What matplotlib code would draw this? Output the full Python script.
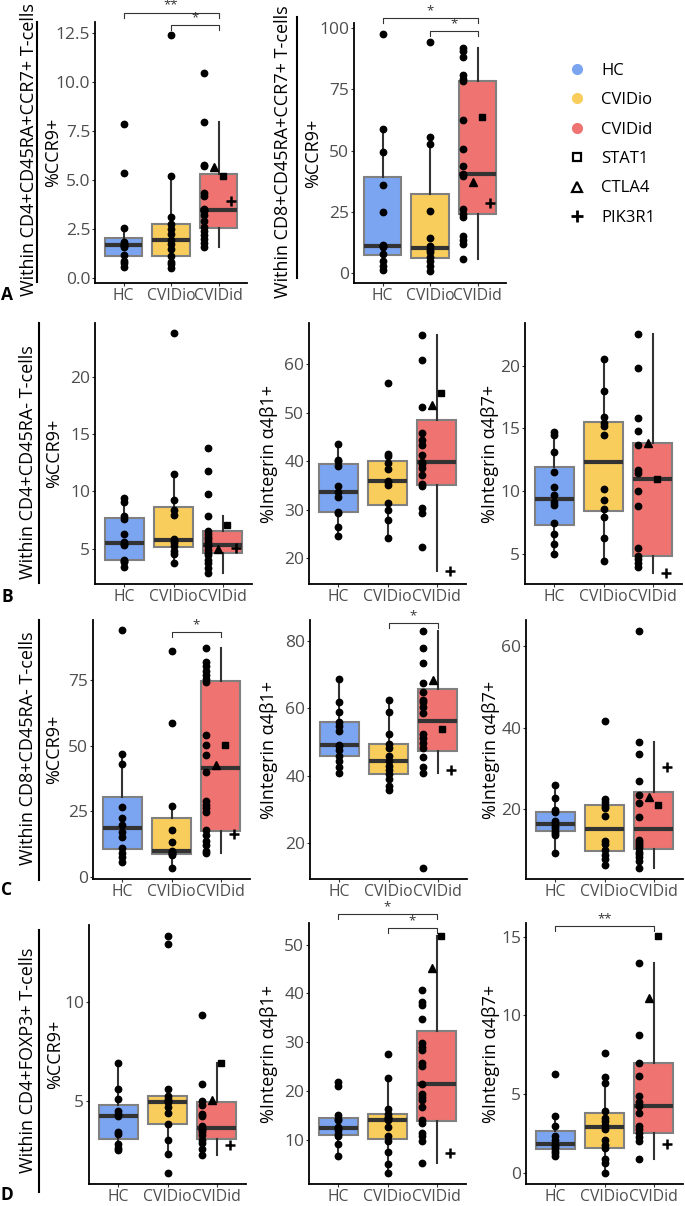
import matplotlib
matplotlib.use("Agg")
import matplotlib.pyplot as plt
from matplotlib.lines import Line2D
from matplotlib.ticker import FormatStrFormatter
from matplotlib.transforms import blended_transform_factory

plt.rcParams["font.family"] = ["Open Sans", "DejaVu Sans"]

groups = ["HC", "CVIDio", "CVIDid"]
group_colors = ["#7BA4F1", "#F9CD5C", "#EE7371"]
mutations = ["STAT1", "CTLA4", "PIK3R1"]

# values per panel: HC, CVIDio, CVIDid (no known mutation), CVIDid mutations (STAT1, CTLA4, PIK3R1)
a1_hc = [7.85, 5.35, 2.55, 1.85, 1.75, 1.7, 1.65, 1.6, 1.2, 0.85, 0.75, 0.55]
a1_io = [12.4, 5.2, 3.1, 2.75, 2.5, 2.25, 1.95, 1.75, 1.5, 1.1, 0.8, 0.7, 0.5]
a1_id = [10.45, 7.95, 5.75, 5.7, 4.35, 4.2, 3.5, 3.45, 3.4, 3.2, 2.9, 2.6, 2.4, 2.2, 2.0, 1.8, 1.6]
a1_mut = [5.2, 5.65, 3.9]

a2_hc = [97.5, 58.8, 49.5, 36.0, 25.0, 11.5, 11.0, 10.5, 8.0, 5.0, 2.8, 1.5]
a2_io = [94.3, 55.5, 52.8, 25.5, 14.5, 11.0, 9.5, 8.5, 6.8, 5.0, 2.8, 0.8]
a2_id = [91.8, 90.5, 88.2, 81.0, 79.0, 78.2, 62.3, 50.6, 43.5, 40.4, 39.7, 26.0, 24.0, 23.0,
         15.2, 13.6, 12.0, 5.7]
a2_mut = [63.7, 37.0, 28.8]

b1_hc = [9.4, 9.1, 7.8, 7.6, 6.3, 5.6, 5.4, 5.3, 4.0, 3.9, 3.8, 3.4]
b1_io = [23.8, 11.5, 9.2, 8.4, 7.9, 5.8, 5.65, 5.5, 5.2, 4.8, 4.5, 3.7]
b1_id = [13.8, 11.75, 9.75, 7.85, 6.5, 6.3, 6.0, 5.8, 5.6, 5.3, 5.2, 4.9, 4.6, 4.4, 4.0, 3.7,
         3.3, 2.85]
b1_mut = [7.05, 5.0, 5.05]

b2_hc = [43.5, 40.3, 40.0, 39.0, 34.8, 33.7, 32.6, 29.6, 29.3, 26.5, 24.6]
b2_io = [56.1, 41.5, 41.0, 39.7, 38.4, 36.0, 35.8, 35.2, 31.3, 30.0, 27.8, 24.1]
b2_id = [66.0, 60.9, 51.1, 45.8, 44.3, 43.4, 41.3, 39.9, 39.4, 38.6, 37.2, 35.3, 34.9, 30.3,
         29.3, 22.4]
b2_mut = [54.0, 51.5, 17.3]

b3_hc = [14.7, 14.5, 13.1, 11.5, 10.3, 9.7, 9.1, 8.9, 7.5, 6.6, 5.8, 5.0]
b3_io = [20.5, 18.0, 15.9, 15.4, 15.2, 14.5, 10.2, 9.3, 8.6, 7.9, 6.25, 4.45]
b3_id = [22.5, 19.8, 15.8, 14.8, 13.7, 11.65, 11.45, 10.05, 8.85, 5.45, 4.8, 4.6, 4.25, 3.95]
b3_mut = [11.0, 13.8, 3.5]

c1_hc = [93.9, 46.9, 42.9, 26.4, 22.5, 19.7, 17.2, 15.3, 11.0, 9.0, 7.6, 5.5]
c1_io = [86.2, 58.6, 26.8, 17.8, 13.4, 9.7, 9.4, 9.0, 8.6, 8.3, 3.2]
c1_id = [87.3, 81.9, 80.3, 78.5, 77.1, 75.5, 74.3, 54.1, 50.1, 46.5, 40.1, 28.9, 27.4, 26.1,
         24.5, 17.8, 15.7, 13.5, 12.0, 9.8, 8.9]
c1_mut = [50.3, 42.7, 16.2]

c2_hc = [68.6, 61.8, 59.0, 56.0, 54.6, 53.3, 49.1, 48.8, 47.6, 45.7, 44.2, 42.7, 40.7]
c2_io = [62.4, 59.0, 52.3, 49.3, 48.1, 45.7, 44.2, 43.0, 41.7, 40.4, 39.1, 36.8, 35.8]
c2_id = [82.9, 77.8, 73.3, 67.4, 64.9, 62.4, 61.7, 60.2, 58.5, 52.3, 51.1, 49.6, 48.1, 45.4,
         42.7, 40.7, 12.6]
c2_mut = [53.9, 68.4, 41.7]

c3_hc = [26.0, 22.7, 19.8, 19.3, 17.1, 16.6, 16.0, 15.3, 14.7, 14.2, 13.7, 9.2]
c3_io = [41.6, 22.5, 21.9, 20.7, 20.2, 18.4, 12.1, 11.4, 10.0, 8.7, 7.8, 6.4]
c3_id = [63.7, 36.6, 33.5, 26.9, 23.5, 21.6, 18.0, 12.5, 12.0, 11.4, 11.0, 10.4, 9.5, 9.0,
         8.4, 7.3, 5.6]
c3_mut = [21.1, 23.1, 30.3]

d1_hc = [6.9, 5.6, 5.1, 4.5, 4.3, 4.2, 3.4, 3.3, 2.8, 2.6, 2.5]
d1_io = [13.3, 12.9, 5.6, 5.25, 5.1, 5.0, 4.95, 4.7, 4.4, 3.8, 3.0, 2.3, 1.33]
d1_id = [9.3, 5.85, 5.0, 4.8, 4.35, 4.2, 3.7, 3.55, 3.5, 3.4, 3.25, 3.0, 2.85, 2.55, 2.25]
d1_mut = [6.9, 5.05, 2.75]

d2_hc = [21.9, 21.0, 15.1, 14.4, 14.0, 12.7, 12.4, 12.0, 11.2, 10.8, 9.1, 6.7]
d2_io = [27.5, 22.7, 16.3, 15.4, 14.8, 14.6, 14.3, 14.0, 12.6, 10.8, 9.9, 7.6, 5.1, 3.2]
d2_id = [40.6, 38.3, 37.6, 34.7, 29.8, 29.1, 28.5, 25.8, 25.1, 21.5, 19.5, 18.7, 18.2, 16.8,
         14.1, 13.5, 11.5, 10.8, 9.7, 5.2]
d2_mut = [51.7, 45.1, 7.4]

d3_hc = [6.25, 3.6, 2.95, 2.3, 2.1, 1.85, 1.7, 1.55, 1.4, 1.25, 1.05]
d3_io = [7.6, 6.1, 5.7, 3.9, 3.45, 3.3, 3.05, 2.75, 2.1, 1.75, 1.55, 0.9, 0.6, 0.0]
d3_id = [13.35, 8.75, 7.0, 6.15, 4.85, 4.5, 4.25, 3.8, 2.95, 2.75, 2.5, 2.25, 2.0, 0.85]
d3_mut = [15.05, 11.1, 1.8]

ccr9 = "%CCR9+"
b1lab = "%Integrin α4β1+"
b7lab = "%Integrin α4β7+"

# box = (left, top, right, bottom) in pixels
panels = [
    dict(data=(a1_hc, a1_io, a1_id, a1_mut), ylabel=ccr9, ylim=(-0.25, 13.04),
         yticks=[0, 2.5, 5, 7.5, 10, 12.5], fmt="%.1f", box=(95, 22, 247, 283), lpad=33,
         brackets=[(1, 3, "**", 1.036), (2, 3, "*", 0.988)]),
    dict(data=(a2_hc, a2_io, a2_id, a2_mut), ylabel=ccr9, ylim=(-4, 102),
         yticks=[0, 25, 50, 75, 100], fmt="%g", box=(354, 23, 506, 283), lpad=32,
         brackets=[(1, 3, "*", 1.019), (2, 3, "*", 0.969)]),
    dict(data=(b1_hc, b1_io, b1_id, b1_mut), ylabel=ccr9, ylim=(1.9, 24.7),
         yticks=[5, 10, 15, 20], fmt="%g", box=(95, 323, 252, 584), lpad=32, brackets=[]),
    dict(data=(b2_hc, b2_io, b2_id, b2_mut), ylabel=b1lab, ylim=(14.7, 68.5),
         yticks=[20, 30, 40, 50, 60], fmt="%g", box=(309, 323, 466, 584), lpad=31, brackets=[]),
    dict(data=(b3_hc, b3_io, b3_id, b3_mut), ylabel=b7lab, ylim=(2.6, 23.4),
         yticks=[5, 10, 15, 20], fmt="%g", box=(525, 323, 682, 584), lpad=26, brackets=[]),
    dict(data=(c1_hc, c1_io, c1_id, c1_mut), ylabel=ccr9, ylim=(-0.9, 97.9),
         yticks=[0, 25, 50, 75], fmt="%g", box=(93, 620, 250, 879), lpad=30,
         brackets=[(2, 3, "*", 0.954)]),
    dict(data=(c2_hc, c2_io, c2_id, c2_mut), ylabel=b1lab, ylim=(9.4, 86.1),
         yticks=[20, 40, 60, 80], fmt="%g", box=(310, 620, 467, 879), lpad=32,
         brackets=[(2, 3, "*", 0.988)]),
    dict(data=(c3_hc, c3_io, c3_id, c3_mut), ylabel=b7lab, ylim=(2.9, 66.4),
         yticks=[20, 40, 60], fmt="%g", box=(526, 620, 683, 879), lpad=26, brackets=[]),
    dict(data=(d1_hc, d1_io, d1_id, d1_mut), ylabel=ccr9, ylim=(0.79, 13.87),
         yticks=[5, 10], fmt="%g", box=(89, 925, 246, 1184), lpad=25, brackets=[]),
    dict(data=(d2_hc, d2_io, d2_id, d2_mut), ylabel=b1lab, ylim=(1.0, 54.4),
         yticks=[10, 20, 30, 40, 50], fmt="%g", box=(309, 923, 466, 1184), lpad=31,
         brackets=[(1, 3, "*", 1.034), (2, 3, "*", 0.981)]),
    dict(data=(d3_hc, d3_io, d3_id, d3_mut), ylabel=b7lab, ylim=(-0.72, 15.87),
         yticks=[0, 5, 10, 15], fmt="%g", box=(526, 923, 683, 1184), lpad=26,
         brackets=[(1, 3, "**", 0.988)]),
]

row_labels = [
    ("Within CD4+CD45RA+CCR7+ T-cells", 29, 150, 37, 22, 282),
    ("Within CD8+CD45RA+CCR7+ T-cells", 283, 152, 297, 17, 278),
    ("Within CD4+CD45RA- T-cells", 28, 462, 39, 323, 583),
    ("Within CD8+CD45RA- T-cells", 28, 748, 39, 620, 880),
    ("Within CD4+FOXP3+ T-cells", 28, 1060, 39, 930, 1192),
]
letters = [("A", 7, 295), ("B", 7, 597), ("C", 7, 890), ("D", 7, 1195)]

W, H = 685, 1206
fig = plt.figure(figsize=(W / 100, H / 100), dpi=100)

mut_offsets = [0.1, -0.1, 0.27]
mut_markers = [dict(marker="s", ms=4.8), dict(marker="^", ms=5.8),
               dict(marker="+", ms=7.5, mew=1.8)]

for p in panels:
    left, top, right, bottom = p["box"]
    ax = fig.add_axes([left / W, 1 - bottom / H, (right - left) / W, (bottom - top) / H])
    hc, io, idd, mut = p["data"]
    bp = ax.boxplot([hc, io, idd + mut], positions=[1, 2, 3], widths=0.78,
                    patch_artist=True, showfliers=False, showcaps=False, whis=1.5,
                    boxprops=dict(edgecolor="#808080", linewidth=1.5),
                    whiskerprops=dict(color="#333333", linewidth=1.5),
                    medianprops=dict(color="#333333", linewidth=3.0))
    for patch, c in zip(bp["boxes"], group_colors):
        patch.set_facecolor(c)
    ax.plot([1] * len(hc), hc, "o", color="black", ms=4.6, zorder=4)
    ax.plot([2] * len(io), io, "o", color="black", ms=4.6, zorder=4)
    ax.plot([3 - 0.3] * len(idd), idd, "o", color="black", ms=4.6, zorder=4)
    for val, off, mk in zip(mut, mut_offsets, mut_markers):
        ax.plot([3 + off], [val], ls="", color="black", zorder=5, **mk)

    ax.set_xlim(0.4, 3.6)
    ax.set_ylim(*p["ylim"])
    ax.set_yticks(p["yticks"])
    ax.yaxis.set_major_formatter(FormatStrFormatter(p["fmt"]))
    ax.set_xticks([1, 2, 3])
    ax.set_xticklabels(groups)
    ax.tick_params(axis="both", length=2.5, width=0.8, color="#333333",
                   labelcolor="#4D4D4D", pad=1)
    ax.tick_params(axis="x", labelsize=11.3)
    ax.tick_params(axis="y", labelsize=12.5)
    for s in ["top", "right"]:
        ax.spines[s].set_visible(False)
    for s in ["left", "bottom"]:
        ax.spines[s].set_linewidth(1.3)
    ax.set_ylabel(p["ylabel"], fontsize=13, color="black")
    ax.yaxis.set_label_coords(-p["lpad"] / (right - left), 0.5)

    trans = blended_transform_factory(ax.transData, ax.transAxes)
    tick = 5 / (bottom - top)
    for g1, g2, lab, yb in p["brackets"]:
        ax.plot([g1, g1, g2, g2], [yb - tick, yb, yb, yb - tick], color="#333333",
                lw=0.8, transform=trans, clip_on=False)
        ax.text((g1 + g2) / 2, yb + 0.004, lab, transform=trans, ha="center",
                va="bottom", fontsize=9.5, color="#333333")

for text, x, y, lx, y0, y1 in row_labels:
    fig.text(x / W, 1 - y / H, text, rotation=90, ha="center", va="center", fontsize=13)
    fig.add_artist(Line2D([lx / W, lx / W], [1 - y0 / H, 1 - y1 / H],
                          transform=fig.transFigure, color="black", lw=1.5))

for lab, x, y in letters:
    fig.text(x / W, 1 - y / H, lab, ha="center", va="center", fontsize=12.5,
             fontweight="bold")

handles = [Line2D([], [], ls="", marker="o", ms=7, color=c) for c in group_colors]
handles += [Line2D([], [], ls="", marker="s", ms=6, mfc="none", mec="black", mew=1.6),
            Line2D([], [], ls="", marker="^", ms=7.5, mfc="none", mec="black", mew=1.6),
            Line2D([], [], ls="", marker="+", ms=9, color="black", mew=2)]
fig.legend(handles, groups + mutations, loc="upper left",
           bbox_to_anchor=(569 / W, 1 - 63 / H), frameon=False, fontsize=12,
           handlelength=0.95, handletextpad=1.0, labelspacing=0.8,
           borderpad=0, borderaxespad=0)

fig.savefig("out.png", dpi=100)
